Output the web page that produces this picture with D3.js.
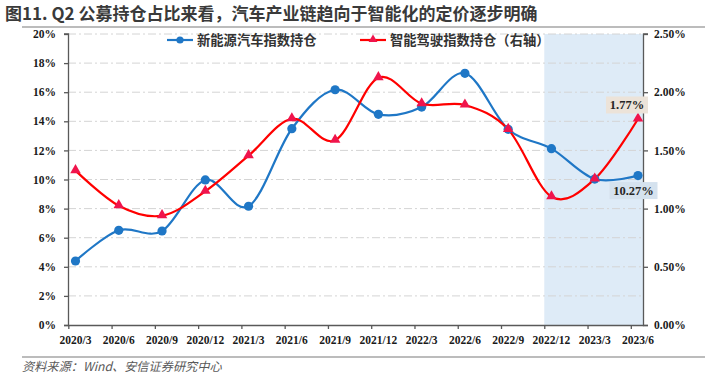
<!DOCTYPE html>
<html>
<head>
<meta charset="utf-8">
<script src="https://cdn.jsdelivr.net/npm/d3@7"></script>
<style>
    body { margin: 0; background: #fff; }
    svg { display: block; }
</style>
</head>
<body>
<div id="chart"></div>
<script>
// Q2 fund holdings - NEV index vs smart driving index

// Data
const categories = ['2020/3', '2020/6', '2020/9', '2020/12', '2021/3', '2021/6', '2021/9',
    '2021/12', '2022/3', '2022/6', '2022/9', '2022/12', '2023/3', '2023/6'];
const nevHolding = [4.40, 6.51, 6.46, 9.97, 8.16, 13.49, 16.17, 14.48, 14.98, 17.30, 13.45, 12.12, 10.03, 10.27];
const smartHolding = [1.326, 1.025, 0.939, 1.149, 1.455, 1.772, 1.587, 2.125, 1.901, 1.890, 1.680, 1.102, 1.254, 1.77];
const leftTicks = [0, 2, 4, 6, 8, 10, 12, 14, 16, 18, 20];
const rightTicks = [0, 0.5, 1, 1.5, 2, 2.5];
const seriesNames = ['新能源汽车指数持仓', '智能驾驶指数持仓（右轴）'];
const shadeFrom = '2022/12';

// Configuration
const config = {
    width: 717,
    height: 382,
    left: 68,
    right: 644,
    top: 34,
    bottom: 325,
    blue: '#1f77c6',
    red: '#ff0000',
    redMarker: '#f0144c',
    axisColor: '#595959',
    gridColor: '#d4d4d4',
    numFont: '"Liberation Serif", "Times New Roman", serif',
    cjkFont: '"Noto Sans CJK SC", sans-serif'
};

const svg = d3.select('#chart')
    .append('svg')
    .attr('width', config.width)
    .attr('height', config.height);

// Scales
const x = d3.scaleLinear().domain([0, categories.length - 1]).range([75.5, 638]);
const tickOffset = -0.166;  // ticks sit a bit left of the points
const yL = d3.scaleLinear().domain([0, 20]).range([config.bottom, config.top]);
const yR = d3.scaleLinear().domain([0, 2.5]).range([config.bottom, config.top]);

// Title
svg.append('text')
    .attr('x', 5)
    .attr('y', 20)
    .attr('font-family', config.cjkFont)
    .attr('font-size', 17)
    .attr('font-weight', 'bold')
    .attr('fill', '#3a3a3a')
    .text('图11. Q2 公募持仓占比来看，汽车产业链趋向于智能化的定价逐步明确');

svg.append('line')
    .attr('x1', 22).attr('x2', 705)
    .attr('y1', 27).attr('y2', 27)
    .attr('stroke', '#a6a6a6')
    .attr('stroke-width', 1.5);

// Shaded period
const shadeIdx = categories.indexOf(shadeFrom);
svg.append('rect')
    .attr('x', x(shadeIdx + tickOffset))
    .attr('y', config.top)
    .attr('width', config.right - x(shadeIdx + tickOffset))
    .attr('height', config.bottom - config.top)
    .attr('fill', '#deebf7');

// Gridlines
svg.append('g')
    .selectAll('line')
    .data(leftTicks.filter(d => d > 0))
    .enter().append('line')
    .attr('x1', config.left).attr('x2', config.right)
    .attr('y1', d => yL(d)).attr('y2', d => yL(d))
    .attr('stroke', config.gridColor)
    .attr('stroke-width', 1)
    .attr('stroke-dasharray', '8,3,2,3');

// Left axis
const leftAxis = svg.append('g')
    .attr('transform', `translate(${config.left},0)`)
    .call(d3.axisLeft(yL).tickValues(leftTicks).tickFormat(d => d + '%').tickSize(4).tickPadding(8));

// Right axis
const rightAxis = svg.append('g')
    .attr('transform', `translate(${config.right},0)`)
    .call(d3.axisRight(yR).tickValues(rightTicks).tickFormat(d => d.toFixed(2) + '%').tickSize(4).tickPadding(6));

// Bottom axis: ticks offset from labels
const bottomAxis = svg.append('g')
    .attr('transform', `translate(0,${config.bottom})`)
    .call(d3.axisBottom(x).tickValues(d3.range(categories.length).map(i => i + tickOffset))
        .tickFormat('').tickSize(4).tickSizeOuter(0));
bottomAxis.select('.domain').attr('d', `M${config.left},0.5H${config.right}`);

svg.append('g')
    .selectAll('text')
    .data(categories)
    .enter().append('text')
    .attr('x', (d, i) => x(i))
    .attr('y', config.bottom + 19)
    .attr('text-anchor', 'middle')
    .attr('font-family', config.numFont)
    .attr('font-weight', 'bold')
    .attr('font-size', 11.5)
    .attr('fill', '#1a1a1a')
    .text(d => d);

[leftAxis, rightAxis, bottomAxis].forEach(a => {
    a.selectAll('.domain').attr('stroke', config.axisColor).attr('stroke-width', 1.3);
    a.selectAll('.tick line').attr('stroke', config.axisColor).attr('stroke-width', 1.3);
    a.selectAll('.tick text')
        .attr('font-family', config.numFont)
        .attr('font-weight', 'bold')
        .attr('font-size', 11.5)
        .attr('fill', '#1a1a1a');
});
leftAxis.select('.domain').attr('d', `M-4,${config.bottom}.5H0.5V${config.top}H-4`);
rightAxis.select('.domain').attr('d', `M4,${config.bottom}.5H-0.5V${config.top}H4`);

// Lines
const lineL = d3.line().x((d, i) => x(i)).y(d => yL(d)).curve(d3.curveCatmullRom.alpha(0));
const lineR = d3.line().x((d, i) => x(i)).y(d => yR(d)).curve(d3.curveCatmullRom.alpha(0));

svg.append('path')
    .datum(nevHolding)
    .attr('d', lineL)
    .attr('fill', 'none')
    .attr('stroke', config.blue)
    .attr('stroke-width', 2.2);

svg.append('path')
    .datum(smartHolding)
    .attr('d', lineR)
    .attr('fill', 'none')
    .attr('stroke', config.red)
    .attr('stroke-width', 2.2);

// Markers
const triangle = d3.symbol().type(d3.symbolTriangle).size(48);

svg.append('g')
    .selectAll('circle')
    .data(nevHolding)
    .enter().append('circle')
    .attr('cx', (d, i) => x(i))
    .attr('cy', d => yL(d))
    .attr('r', 4.6)
    .attr('fill', config.blue);

svg.append('g')
    .selectAll('path')
    .data(smartHolding)
    .enter().append('path')
    .attr('d', triangle)
    .attr('transform', (d, i) => `translate(${x(i)},${yR(d) - 0.5})`)
    .attr('fill', config.redMarker);

// Value callouts for the last point
function callout(cx, cy, w, h, fill, label) {
    svg.append('rect')
        .attr('x', cx - w / 2).attr('y', cy - h / 2)
        .attr('width', w).attr('height', h)
        .attr('fill', fill);
    svg.append('text')
        .attr('x', cx).attr('y', cy + 4.5)
        .attr('text-anchor', 'middle')
        .attr('font-family', config.numFont)
        .attr('font-weight', 'bold')
        .attr('font-size', 12.5)
        .attr('fill', '#262626')
        .text(label);
}
const last = categories.length - 1;
callout(x(last) - 11, yR(smartHolding[last]) - 14, 42, 17, '#ece3d9', smartHolding[last].toFixed(2) + '%');
callout(x(last) - 4.5, yL(nevHolding[last]) + 15, 48, 17, '#d5e2ee', nevHolding[last].toFixed(2) + '%');

// Legend
const legend = svg.append('g').attr('transform', 'translate(167,40)');
const legendItems = [
    { name: seriesNames[0], color: config.blue, x: 0, shape: 'circle' },
    { name: seriesNames[1], color: config.red, x: 193, shape: 'triangle' }
];
legendItems.forEach(item => {
    const g = legend.append('g').attr('transform', `translate(${item.x},0)`);
    g.append('line').attr('x1', 0).attr('x2', 26).attr('y1', 0).attr('y2', 0)
        .attr('stroke', item.color).attr('stroke-width', 2.2);
    if (item.shape === 'circle') {
        g.append('circle').attr('cx', 13).attr('cy', 0).attr('r', 3.6).attr('fill', item.color);
    } else {
        g.append('path').attr('d', d3.symbol().type(d3.symbolTriangle).size(34))
            .attr('transform', 'translate(13,-0.5)').attr('fill', config.redMarker);
    }
    g.append('text')
        .attr('x', 30).attr('y', 5)
        .attr('font-family', config.cjkFont)
        .attr('font-size', 13.3)
        .attr('font-weight', 'bold')
        .attr('fill', '#333')
        .text(item.name);
});

// Footer
svg.append('line')
    .attr('x1', 22).attr('x2', 705)
    .attr('y1', 357).attr('y2', 357)
    .attr('stroke', '#a6a6a6')
    .attr('stroke-width', 1.5);

svg.append('text')
    .attr('x', 22)
    .attr('y', 371)
    .attr('font-family', config.cjkFont)
    .attr('font-size', 12.2)
    .attr('font-style', 'italic')
    .attr('fill', '#595959')
    .text('资料来源：Wind、安信证券研究中心');
</script>
</body>
</html>
